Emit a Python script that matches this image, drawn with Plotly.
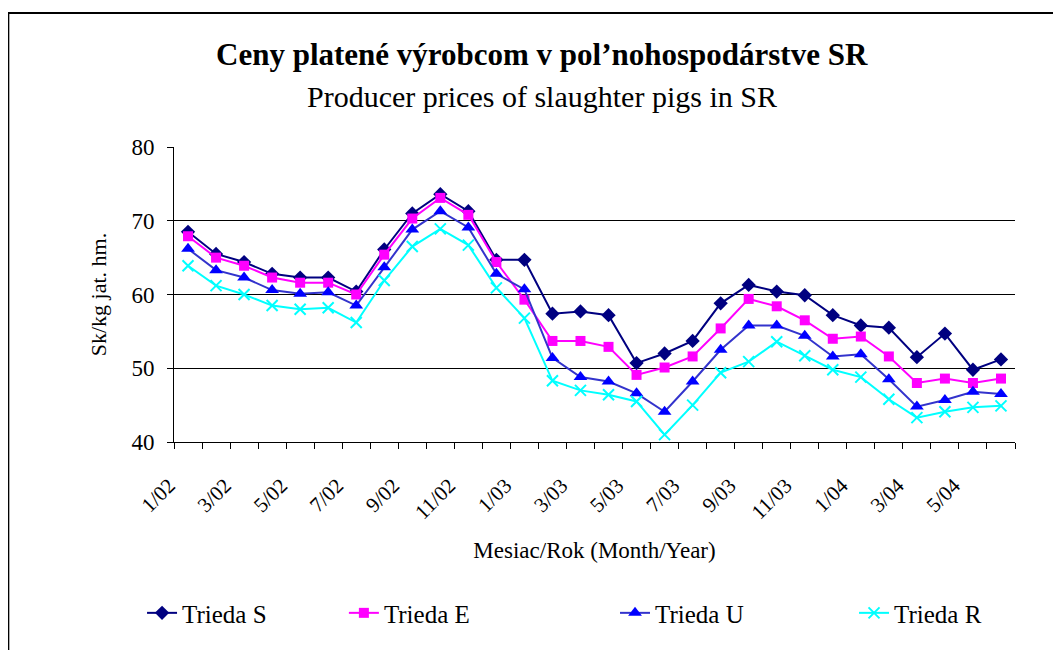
import plotly.graph_objects as go

months = ["1/02","2/02","3/02","4/02","5/02","6/02","7/02","8/02","9/02","10/02","11/02","12/02",
          "1/03","2/03","3/03","4/03","5/03","6/03","7/03","8/03","9/03","10/03","11/03","12/03",
          "1/04","2/04","3/04","4/04","5/04","6/04"]

trieda_s = [68.5, 65.5, 64.4, 62.8, 62.3, 62.3, 60.4, 66.1, 71.0, 73.6, 71.3, 64.7,
            64.7, 57.4, 57.7, 57.2, 50.7, 52.0, 53.7, 58.8, 61.3, 60.4, 59.9, 57.2,
            55.8, 55.5, 51.5, 54.7, 49.8, 51.2]
trieda_e = [67.9, 65.0, 63.9, 62.3, 61.6, 61.6, 60.0, 65.4, 70.3, 73.1, 70.8, 64.4,
            59.3, 53.7, 53.7, 52.9, 49.1, 50.1, 51.6, 55.4, 59.4, 58.4, 56.5, 54.0,
            54.3, 51.6, 48.0, 48.6, 48.0, 48.6]
trieda_u = [66.2, 63.3, 62.3, 60.6, 60.1, 60.3, 58.5, 63.7, 68.8, 71.3, 69.1, 62.8,
            60.7, 51.4, 48.8, 48.2, 46.6, 44.1, 48.2, 52.5, 55.8, 55.8, 54.4, 51.6,
            51.9, 48.5, 44.8, 45.7, 46.8, 46.5]
trieda_r = [63.9, 61.2, 60.0, 58.5, 58.0, 58.2, 56.2, 61.9, 66.5, 68.9, 66.7, 60.9,
            56.8, 48.3, 47.0, 46.4, 45.5, 41.0, 45.0, 49.4, 50.9, 53.6, 51.7, 49.8,
            48.8, 45.8, 43.3, 44.1, 44.7, 44.9]

y_ticks = [40, 50, 60, 70, 80]

idx = list(range(len(months)))
FONT = "Liberation Serif"

fig = go.Figure()
fig.add_trace(go.Scatter(x=idx, y=trieda_s, name="Trieda S", mode="lines+markers",
                         legend="legend",
                         line=dict(color="#000080", width=2),
                         marker=dict(symbol="diamond", size=11, color="#000080")))
fig.add_trace(go.Scatter(x=idx, y=trieda_e, name="Trieda E", mode="lines+markers",
                         legend="legend2",
                         line=dict(color="#FF00FF", width=2),
                         marker=dict(symbol="square", size=10, color="#FF00FF")))
fig.add_trace(go.Scatter(x=idx, y=trieda_u, name="Trieda U", mode="lines+markers",
                         legend="legend3",
                         line=dict(color="#3333CC", width=2),
                         marker=dict(symbol="triangle-up", size=12, color="#0000FF")))
fig.add_trace(go.Scatter(x=idx, y=trieda_r, name="Trieda R", mode="lines+markers",
                         legend="legend4",
                         line=dict(color="#00FFFF", width=2),
                         marker=dict(symbol="x-thin-open", size=11,
                                     line=dict(color="#00FFFF", width=2))))

def leg(x):
    return dict(orientation="h", x=x, y=-0.58, xanchor="left", yanchor="middle",
                font=dict(family=FONT, size=25), bgcolor="rgba(0,0,0,0)")

fig.update_layout(
    width=1053, height=642,
    margin=dict(l=166, r=46, t=139, b=208, autoexpand=False),
    paper_bgcolor="white", plot_bgcolor="white",
    font=dict(family=FONT, color="black"),
    showlegend=True,
    legend=leg(-0.0380), legend2=leg(0.2020), legend3=leg(0.5244), legend4=leg(0.8086),
    xaxis=dict(range=[-0.5, len(months) - 0.5], tickmode="array",
               tickvals=idx[::2], ticktext=months[::2], ticks="",
               tickangle=-45, tickfont=dict(family=FONT, size=21),
               ticklabelstandoff=22, ticklabelshift=-19,
               showline=True, linecolor="black", linewidth=1, showgrid=False,
               zeroline=False, automargin=False,
               minor=dict(tickmode="array", tickvals=[i - 0.5 for i in range(len(months) + 1)],
                          ticks="outside", ticklen=6, tickcolor="black", tickwidth=1,
                          showgrid=False),
               title=dict(text="Mesiac/Rok (Month/Year)", font=dict(family=FONT, size=23),
                          standoff=18)),
    yaxis=dict(range=[40, 80], tickmode="array", tickvals=y_ticks,
               ticks="outside", ticklen=6, tickcolor="black",
               tickfont=dict(family=FONT, size=23), ticklabelstandoff=8,
               showline=True, linecolor="black", linewidth=1,
               showgrid=True, gridcolor="black", gridwidth=1, zeroline=False,
               automargin=False,
               title=dict(text="Sk/kg jat. hm.", font=dict(family=FONT, size=22),
                          standoff=18)),
    annotations=[
        dict(text="<b>Ceny platené výrobcom v pol’nohospodárstve SR</b>",
             xref="paper", yref="paper", x=0.438, y=1.312, xanchor="center", yanchor="middle",
             showarrow=False, font=dict(family=FONT, size=31)),
        dict(text="Producer prices of slaughter pigs in SR",
             xref="paper", yref="paper", x=0.438, y=1.17, xanchor="center", yanchor="middle",
             showarrow=False, font=dict(family=FONT, size=30)),
    ],
    shapes=[dict(type="rect", xref="paper", yref="paper",
                 x0=-0.197, x1=1.07, y0=-0.75, y1=1.454,
                 line=dict(color="black", width=2), fillcolor="rgba(0,0,0,0)", layer="below")],
)

fig.write_html("out.html")
